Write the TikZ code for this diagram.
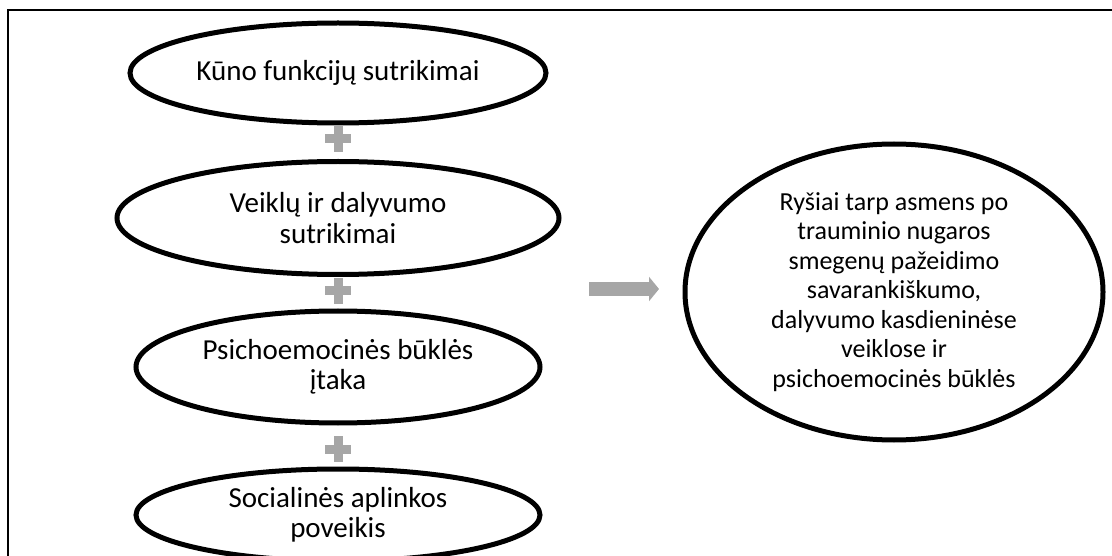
\documentclass[tikz,border=0pt]{standalone}
\usepackage{fontspec}
\setmainfont{Carlito}
\usetikzlibrary{shapes.geometric,arrows.meta,positioning}
\definecolor{plusgray}{RGB}{166,166,166}
\tikzset{
  factor/.style={ellipse, draw=black, line width=5pt, inner sep=0pt,
    align=center, font=\fontsize{29}{30.5}\selectfont},
  result/.style={factor, font=\fontsize{26}{29.5}\selectfont},
  plussign/.style={minimum size=27pt, inner sep=0pt,
    path picture={
      \fill[plusgray] ([xshift=-13pt,yshift=-4.5pt]path picture bounding box.center)
        rectangle ([xshift=13pt,yshift=4.5pt]path picture bounding box.center);
      \fill[plusgray] ([xshift=-4.5pt,yshift=-13pt]path picture bounding box.center)
        rectangle ([xshift=4.5pt,yshift=13pt]path picture bounding box.center);
    }},
}
\begin{document}
\begin{tikzpicture}[x=1pt, y=-1pt]
  \useasboundingbox (0,0) rectangle (1112,556);
  % outer frame
  \draw[line width=2.5pt] (1112,10) -- (8,10) -- (8,560);
  % left column of factors
  \node[factor, minimum width=416pt, minimum height=100pt] (kuno) at (338,73) {Kūno funkcijų sutrikimai};
  \node[factor, minimum width=442pt, minimum height=113pt] (veiklu) at (338,218) {Veiklų ir dalyvumo\\sutrikimai};
  \node[factor, minimum width=404pt, minimum height=112pt] (psicho) at (338,367) {Psichoemocinės būklės\\įtaka};
  \node[factor, minimum width=404pt, minimum height=92pt] (social) at (338,515) {Socialinės aplinkos\\poveikis};
  % plus signs between them
  \node[plussign] (p1) at (338,139) {};
  \node[plussign] (p2) at (338,291) {};
  \node[plussign] (p3) at (338,449) {};
  % arrow to result
  \coordinate (a1) at (589,289);
  \coordinate (a2) at (659,289);
  \draw[plusgray, line width=14pt, -{Triangle[width=24pt,length=10pt]}] (a1) -- (a2);
  % result
  \node[result, minimum width=418pt, minimum height=296pt] (rysiai) at (894,292)
    {Ryšiai tarp asmens po\\trauminio nugaros\\smegenų pažeidimo\\savarankiškumo,\\dalyvumo kasdieninėse\\veiklose ir\\psichoemocinės būklės};
\end{tikzpicture}
\end{document}
